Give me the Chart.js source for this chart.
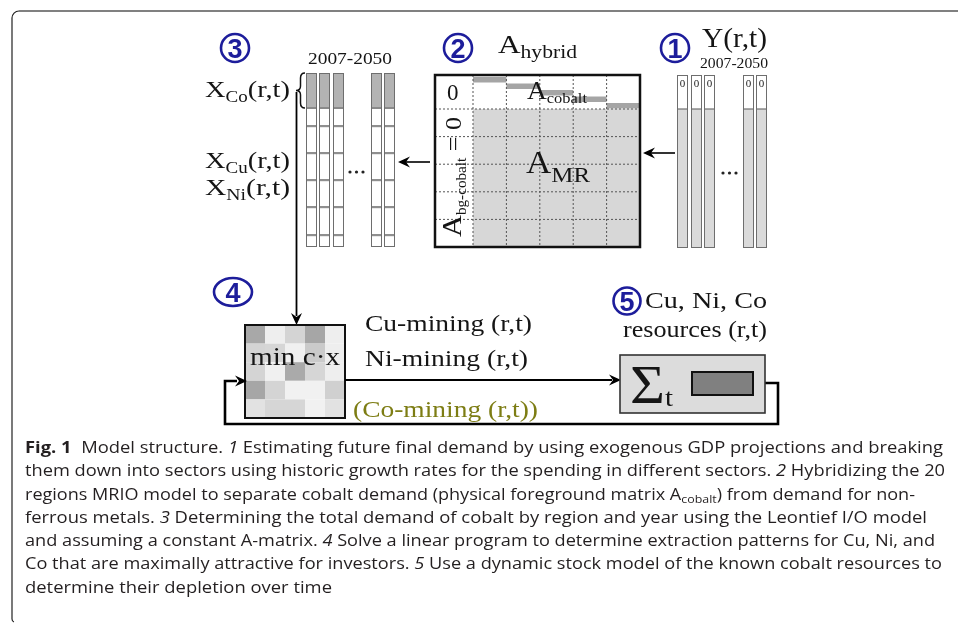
<!DOCTYPE html>
<html>
<head>
<meta charset="utf-8">
<script src="https://cdn.jsdelivr.net/npm/chart.js@4.4.1/dist/chart.umd.min.js"></script>
<style>
  html, body { margin: 0; padding: 0; background: #fff; }
  #wrap { position: relative; width: 958px; height: 624px; overflow: hidden; }
  #fig { position: absolute; left: 0; top: 0; }
  #caption { position: absolute; left: 25px; top: 436px; font-family: 'Open Sans', sans-serif;
             font-size: 16px; line-height: 23.3px; color: #231f20; }
  #caption .ln { white-space: nowrap; width: max-content; transform-origin: 0 50%; }
  #caption sub { font-size: 11px; vertical-align: -3px; line-height: 0; }
</style>
</head>
<body>
<div id="wrap">
  <canvas id="fig" width="958" height="624"></canvas>
  <div id="caption">
    <div class="ln" data-w="918"><b>Fig. 1</b>&nbsp; Model structure. <i>1</i> Estimating future final demand by using exogenous GDP projections and breaking</div>
    <div class="ln" data-w="920">them down into sectors using historic growth rates for the spending in different sectors. <i>2</i> Hybridizing the 20</div>
    <div class="ln" data-w="890">regions MRIO model to separate cobalt demand (physical foreground matrix A<sub>cobalt</sub>) from demand for non-</div>
    <div class="ln" data-w="902">ferrous metals. <i>3</i> Determining the total demand of cobalt by region and year using the Leontief I/O model</div>
    <div class="ln" data-w="910">and assuming a constant A-matrix. <i>4</i> Solve a linear program to determine extraction patterns for Cu, Ni, and</div>
    <div class="ln" data-w="917">Co that are maximally attractive for investors. <i>5</i> Use a dynamic stock model of the known cobalt resources to</div>
    <div class="ln" data-w="307">determine their depletion over time</div>
  </div>
</div>
<script>
// Model structure diagram (cobalt / MRIO)
const stepNumbers = ['1', '2', '3', '4', '5'];
const yearSpan = '2007-2050';
const xVectors = [['X', 'Co', '(r,t)'], ['X', 'Cu', '(r,t)'], ['X', 'Ni', '(r,t)']];
const cobaltSteps = [0, 1, 2, 3, 4];
const matrixBlocks = 5;
const lpShades = [
  [168, 238, 212, 166, 238],
  [212, 214, 240, 202, 238],
  [212, 240, 170, 214, 238],
  [166, 212, 241, 241, 208],
  [226, 214, 214, 241, 226]
];
const flows = ['Cu-mining (r,t)', 'Ni-mining (r,t)', '(Co-mining (r,t))'];
const resourceLabel = ['Cu, Ni, Co', 'resources (r,t)'];

// where things sit on the figure (diagram units = px)
const layout = {
  xCols: [306, 319, 333, 371, 384], xTop: 73, xSplit: 108, xBottom: 247, xRows: [126, 153, 180, 207, 235],
  yCols: [677, 691, 704, 743, 756], yTop: 75, ySplit: 109, yBottom: 248,
  colW: 11,
  mat: { l: 435, t: 75, r: 640, b: 247, labelR: 473, topB: 109 },
  lp: { l: 245, t: 325, r: 345, b: 418 },
  sum: { l: 620, t: 355, r: 765, b: 413 },
  circles: [[675, 48, 14, 14], [458, 48, 14, 14], [235, 48, 14, 14], [233, 292, 19, 14], [627, 301, 13.5, 13.5]]
};

const SERIF = '"Liberation Serif", "Times New Roman", serif';

const diagram = {
  id: 'diagram',
  afterDraw(chart) {
    const ctx = chart.ctx;
    const X = v => chart.scales.x.getPixelForValue(v);
    const Y = v => chart.scales.y.getPixelForValue(v);

    function box(l, t, r, b, fill, stroke, lw) {
      if (fill) { ctx.fillStyle = fill; ctx.fillRect(X(l), Y(t), X(r) - X(l), Y(b) - Y(t)); }
      if (stroke) { ctx.strokeStyle = stroke; ctx.lineWidth = lw || 1; ctx.strokeRect(X(l), Y(t), X(r) - X(l), Y(b) - Y(t)); }
    }
    function path(pts, lw, color, dash) {
      ctx.save();
      ctx.beginPath();
      pts.forEach((p, i) => i ? ctx.lineTo(X(p[0]), Y(p[1])) : ctx.moveTo(X(p[0]), Y(p[1])));
      ctx.lineWidth = lw; ctx.strokeStyle = color || '#000';
      ctx.setLineDash(dash || []);
      ctx.stroke();
      ctx.restore();
    }
    function head(x, y, ang) {
      ctx.save();
      ctx.translate(X(x), Y(y)); ctx.rotate(ang);
      ctx.beginPath();
      ctx.moveTo(0, 0); ctx.lineTo(-12, -5.5); ctx.lineTo(-8, 0); ctx.lineTo(-12, 5.5); ctx.closePath();
      ctx.fillStyle = '#000'; ctx.fill();
      ctx.restore();
    }
    function rich(parts, x, y, fit, color, rot) {
      let w = 0;
      parts.forEach(p => { ctx.font = p[1] + 'px ' + SERIF; p.w = ctx.measureText(p[0]).width; w += p.w; });
      const s = fit ? (rot ? Y(y) - Y(y - fit) : X(x + fit) - X(x)) / w : 1;
      ctx.save();
      ctx.translate(X(x), Y(y));
      if (rot) ctx.rotate(-Math.PI / 2);
      ctx.scale(s, 1);
      ctx.fillStyle = color || '#151515';
      let cx = 0;
      parts.forEach(p => { ctx.font = p[1] + 'px ' + SERIF; ctx.fillText(p[0], cx, p[2] || 0); cx += p.w; });
      ctx.restore();
    }
    function dots(x0, y) {
      [0, 6.5, 13].forEach(d => {
        ctx.beginPath(); ctx.arc(X(x0 + d), Y(y), 1.6, 0, Math.PI * 2); ctx.fillStyle = '#222'; ctx.fill();
      });
    }

    // outer frame
    ctx.save();
    ctx.beginPath(); ctx.moveTo(X(19), Y(11)); ctx.lineTo(X(958), Y(11));
    ctx.strokeStyle = '#808080'; ctx.lineWidth = 2; ctx.stroke();
    ctx.beginPath(); ctx.moveTo(X(19), Y(11)); ctx.arcTo(X(12), Y(11), X(12), Y(18), 7);
    ctx.lineTo(X(12), Y(619)); ctx.quadraticCurveTo(X(12), Y(621.5), X(14), Y(622));
    ctx.strokeStyle = '#222'; ctx.lineWidth = 1.2; ctx.stroke();
    ctx.restore();

    // (2) hybrid matrix
    const m = layout.mat;
    box(m.labelR, m.topB, m.r, m.b, '#d7d7d7');
    const bw = (m.r - m.labelR) / matrixBlocks;
    cobaltSteps.forEach(k => box(m.labelR + k * bw, 77 + k * 6.5, m.labelR + (k + 1) * bw, 82.5 + k * 6.5, '#a5a5a5'));
    for (let k = 0; k < matrixBlocks; k++) path([[m.labelR + k * bw, m.t], [m.labelR + k * bw, m.b]], 1, '#555', [2, 2]);
    const rh = (m.b - m.topB) / matrixBlocks;
    for (let k = 0; k < matrixBlocks; k++) path([[m.l, m.topB + k * rh], [m.r, m.topB + k * rh]], 1, '#555', [2, 2]);
    box(m.l, m.t, m.r, m.b, null, '#111', 2.5);

    // (3) X vectors
    layout.xCols.forEach(l => {
      const r = l + layout.colW;
      box(l, layout.xTop, r, layout.xSplit, '#b3b3b3');
      box(l, layout.xSplit, r, layout.xBottom, '#fff');
      box(l, layout.xSplit - 1, r, layout.xSplit + 1, '#8a8a8a');
      layout.xRows.forEach(y => box(l, y - 1, r, y + 1.2, '#8f8f8f'));
      box(l + 0.5, layout.xTop + 0.5, r - 0.5, layout.xBottom - 0.5, null, '#6e6e6e', 1);
    });
    dots(350, 172);

    // (1) Y vectors
    layout.yCols.forEach(l => {
      const r = l + layout.colW;
      box(l, layout.yTop, r, layout.ySplit, '#fff');
      box(l, layout.ySplit, r, layout.yBottom, '#dadada');
      path([[l, layout.ySplit], [r, layout.ySplit]], 1.2, '#707070');
      box(l + 0.5, layout.yTop + 0.5, r - 0.5, layout.yBottom - 0.5, null, '#6e6e6e', 1);
      ctx.font = '11px ' + SERIF; ctx.fillStyle = '#222'; ctx.textAlign = 'center';
      ctx.fillText('0', X(l + layout.colW / 2), Y(86.5));
      ctx.textAlign = 'left';
    });
    dots(723, 173);

    // brace + arrows
    ctx.save();
    ctx.beginPath();
    ctx.moveTo(X(305), Y(73)); ctx.quadraticCurveTo(X(300.5), Y(73), X(300.5), Y(78));
    ctx.lineTo(X(300.5), Y(86)); ctx.quadraticCurveTo(X(300.5), Y(90.5), X(296), Y(90.5));
    ctx.quadraticCurveTo(X(300.5), Y(90.5), X(300.5), Y(95)); ctx.lineTo(X(300.5), Y(103));
    ctx.quadraticCurveTo(X(300.5), Y(108), X(305), Y(108));
    ctx.strokeStyle = '#111'; ctx.lineWidth = 1.5; ctx.stroke();
    ctx.restore();
    path([[296.5, 92], [296.5, 316]], 1.8);
    head(296.5, 325, Math.PI / 2);
    path([[675, 153], [650, 153]], 1.6); head(643, 153, Math.PI);
    path([[430, 162], [405, 162]], 1.6); head(398, 162, Math.PI);

    // (4) linear program box
    const p = layout.lp, cw = (p.r - p.l) / 5, ch = (p.b - p.t) / 5;
    lpShades.forEach((row, i) => row.forEach((g, j) =>
      box(p.l + j * cw, p.t + i * ch, p.l + (j + 1) * cw, p.t + (i + 1) * ch, `rgb(${g},${g},${g})`)));
    box(p.l, p.t, p.r, p.b, null, '#111', 2);

    // flows + feedback loop
    path([[p.r, 380], [612, 380]], 2.2); head(621, 380, 0);
    const s = layout.sum;
    path([[s.r, 383], [778, 383], [778, 424], [225, 424], [225, 381], [237, 381]], 2.6);
    head(247, 381, 0);

    // (5) resources box
    box(s.l, s.t, s.r, s.b, '#dcdcdc', '#333', 1.6);
    box(692, 372, 753, 395, '#808080', '#111', 2);

    // step circles
    layout.circles.forEach((c, i) => {
      ctx.save();
      ctx.beginPath(); ctx.ellipse(X(c[0]), Y(c[1]), c[2], c[3], 0, 0, Math.PI * 2);
      ctx.strokeStyle = '#1d1d9b'; ctx.lineWidth = 2.6; ctx.stroke();
      ctx.font = 'bold 27px "Liberation Sans", sans-serif'; ctx.fillStyle = '#1d1d9b'; ctx.textAlign = 'center';
      ctx.fillText(stepNumbers[i], X(c[0]), Y(c[1] + 10));
      ctx.restore();
    });

    // labels
    const xl = [97, 168, 195];
    xVectors.forEach((v, i) => rich([[v[0], 24], [v[1], 16, 5], [v[2], 24]], 205, xl[i], 85));
    rich([[yearSpan, 17]], 308, 64, 84);
    rich([['Y(r,t)', 28]], 702, 47, 65);
    rich([[yearSpan, 15]], 700, 68, 68);
    rich([['A', 26], ['hybrid', 18, 5]], 498, 53, 79);
    rich([['0', 23]], 447, 100);
    rich([['A', 25], ['cobalt', 15, 4]], 527, 99, 60);
    rich([['A', 31], ['MR', 22, 9]], 526, 173, 64);
    rich([['A', 28], ['bg-cobalt', 14, 5], [' = 0', 24]], 461, 237, 120, null, true);
    rich([['min c\u00b7x', 26]], 250, 365, 90);
    rich([[flows[0], 24]], 365, 331, 167);
    rich([[flows[1], 24]], 365, 366, 163);
    rich([[flows[2], 24]], 353, 417, 185, '#7d7d14');
    rich([[resourceLabel[0], 24]], 645, 308, 122);
    rich([[resourceLabel[1], 24]], 623, 337, 144);
    rich([['\u03a3', 54], ['t', 26, 3]], 630, 403, 43);
  }
};

new Chart(document.getElementById('fig'), {
  type: 'scatter',
  data: { datasets: [{ data: [] }] },
  options: {
    responsive: false,
    animation: false,
    events: [],
    layout: { padding: 0 },
    plugins: { legend: { display: false }, tooltip: { enabled: false } },
    scales: {
      x: { type: 'linear', min: 0, max: 958, display: false },
      y: { type: 'linear', min: 0, max: 624, reverse: true, display: false }
    }
  },
  plugins: [diagram]
});

// stretch caption lines to the widths they have in the figure
document.querySelectorAll('#caption .ln').forEach(el => {
  const target = +el.dataset.w;
  const w = el.getBoundingClientRect().width;
  el.style.transform = 'scaleX(' + (target / w) + ')';
});
</script>
</body>
</html>
